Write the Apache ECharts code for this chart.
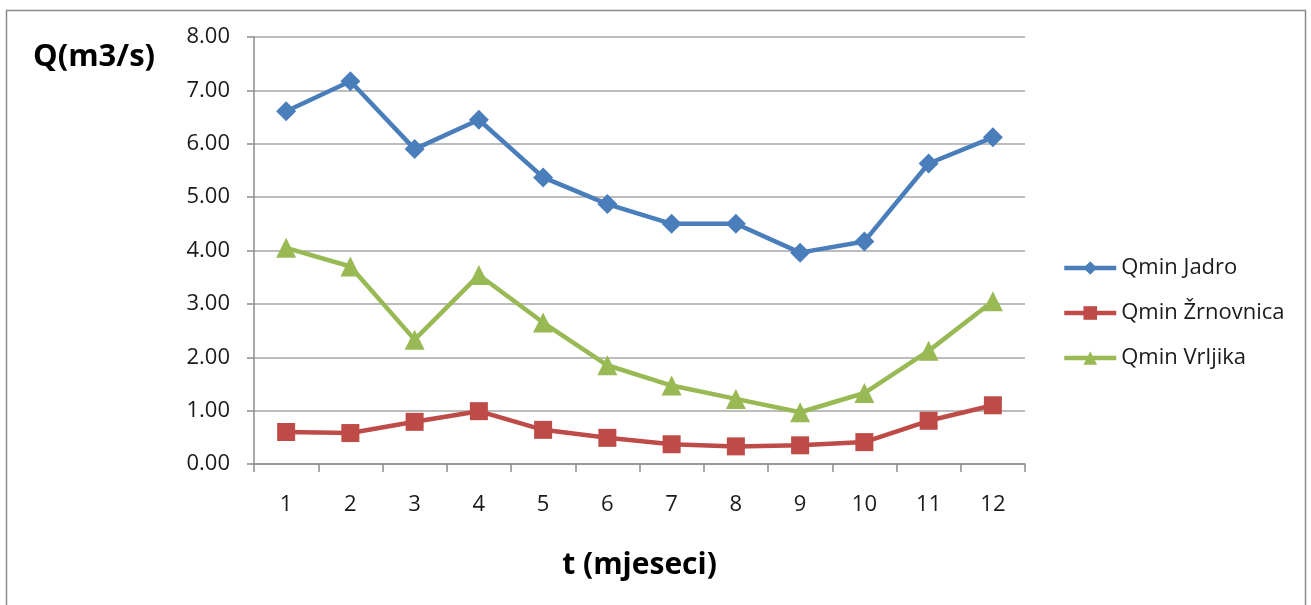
<!DOCTYPE html>
<html><head><meta charset="utf-8">
<script src="https://cdn.jsdelivr.net/npm/echarts@6/dist/echarts.min.js"></script>
<style>html,body{margin:0;padding:0;background:#fff}#c{width:1311px;height:605px}</style>
</head><body><div id="c"></div>
<script>
const months = ['1','2','3','4','5','6','7','8','9','10','11','12'];
const jadro = [6.61, 7.17, 5.90, 6.45, 5.37, 4.87, 4.50, 4.50, 3.96, 4.17, 5.63, 6.12];
const zrnovnica = [0.60, 0.58, 0.79, 0.99, 0.64, 0.49, 0.37, 0.33, 0.35, 0.41, 0.81, 1.10];
const vrljika = [4.05, 3.70, 2.33, 3.54, 2.65, 1.85, 1.47, 1.22, 0.97, 1.33, 2.12, 3.05];
const names = ['Qmin Jadro', 'Qmin Žrnovnica', 'Qmin Vrljika'];
const font = '"Open Sans", "DejaVu Sans", sans-serif';
const chart = echarts.init(document.getElementById('c'));
function ser(name, data, color, symbol, size) {
  return { name, type: 'line', data, symbol, symbolSize: size, showSymbol: true,
    lineStyle: { color, width: 4.5 }, itemStyle: { color }, animation: false };
}
chart.setOption({
  animation: false,
  graphic: [
    { type: 'rect', shape: { x: 6.5, y: 10.5, width: 1299, height: 600 },
      style: { fill: 'none', stroke: '#8c8c8c', lineWidth: 1.5 } },
    { type: 'text', left: 33, top: 42, style: { text: 'Q(m3/s)', fontFamily: font, fontSize: 31, fontWeight: 'bold', fill: '#000' } }
  ],
  grid: { left: 254, right: 286, top: 37, bottom: 141 },
  legend: {
    orient: 'vertical', left: 1057, top: 252, itemGap: 23, itemWidth: 52, itemHeight: 17,
    textStyle: { fontFamily: font, fontSize: 22, color: '#1a1a1a' },
    lineStyle: { width: 4.5 },
    data: names
  },
  xAxis: {
    type: 'category', data: months, boundaryGap: true,
    name: 't (mjeseci)', nameLocation: 'middle', nameGap: 86,
    nameTextStyle: { fontFamily: font, fontSize: 30, fontWeight: 'bold', color: '#000' },
    axisLine: { lineStyle: { color: '#8c8c8c', width: 1.5 } },
    axisTick: { show: true, length: 8, lineStyle: { color: '#8c8c8c', width: 1.5 } },
    axisLabel: { fontFamily: font, fontSize: 22, color: '#1a1a1a', margin: 30 }
  },
  yAxis: {
    type: 'value', min: 0, max: 8, interval: 1,
    axisLine: { show: true, lineStyle: { color: '#8c8c8c', width: 1.5 } },
    axisTick: { show: true, length: 7, lineStyle: { color: '#8c8c8c', width: 1.5 } },
    splitLine: { lineStyle: { color: '#a6a6a6', width: 1.5 } },
    axisLabel: { fontFamily: font, fontSize: 22, color: '#1a1a1a', margin: 24,
      formatter: v => v.toFixed(2) }
  },
  series: [
    ser(names[0], jadro, '#4a7ebb', 'diamond', 20),
    ser(names[1], zrnovnica, '#be4b48', 'rect', 18),
    ser(names[2], vrljika, '#98b954', 'triangle', 20)
  ]
});
</script></body></html>
